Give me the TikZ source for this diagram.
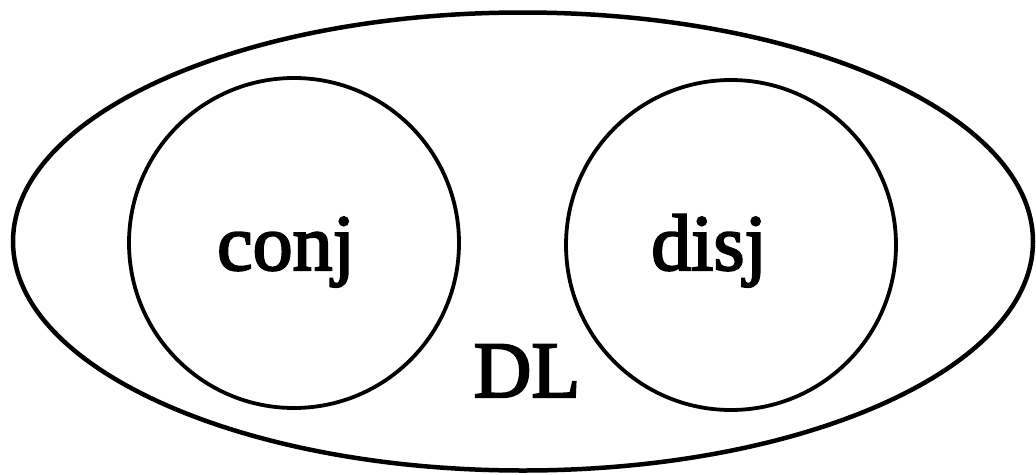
\documentclass[tikz,border=0pt]{standalone}
\usepackage{fontspec}
\setmainfont{Liberation Serif}
\newfontfamily\labelfont[FakeBold=2.6]{Liberation Serif}
\usetikzlibrary{shapes.geometric}
\begin{document}
\begin{tikzpicture}[x=1pt,y=-1pt,
  outerset/.style={draw, ellipse, line width=4.5pt, inner sep=0pt, outer sep=0pt,
    minimum width=1020pt, minimum height=458pt},
  subset/.style={draw, circle, line width=3.8pt, inner sep=0pt, outer sep=0pt,
    minimum size=330pt},
  setlabel/.style={font=\labelfont\fontsize{80}{80}\selectfont, inner sep=0pt, anchor=base}]
  \useasboundingbox (0,0) rectangle (1036,474);
  % universe DL and its two sub-classes
  \node[outerset] (dl) at (523,241.5) {};
  \node[subset] (conj) at (294,243) {};
  \node[subset] (disj) at (731,245) {};
  \node[setlabel] (conjlabel) at (286,270) {conj};
  \node[setlabel] (disjlabel) at (709,270) {disj};
  \node[setlabel] (dllabel) at (527,397) {DL};
\end{tikzpicture}
\end{document}
